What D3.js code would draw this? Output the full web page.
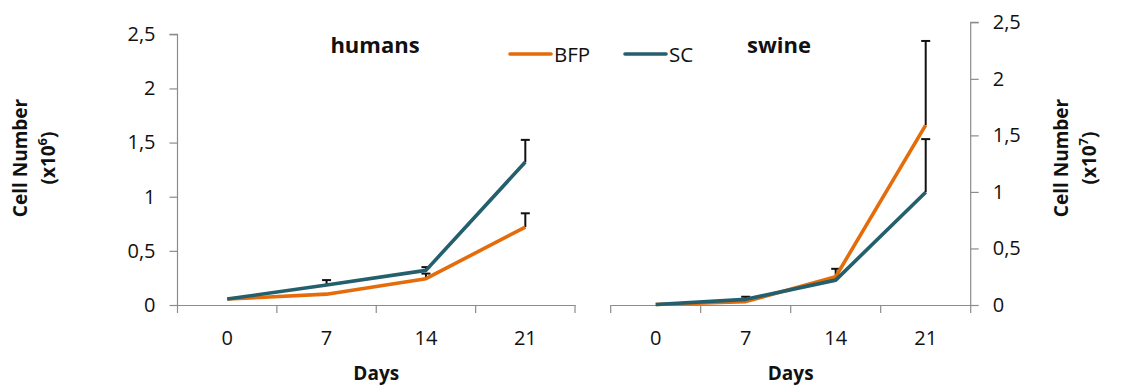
<!DOCTYPE html>
<html lang="en">
<head>
    <meta charset="UTF-8">
    <title>Cell Number</title>
    <style>
        body { margin: 0; background: #fff; }
        svg text { font-family: "Open Sans", sans-serif; fill: #111; }
    </style>
</head>
<body>
    <div id="workspace"></div>

    <script src="https://cdn.jsdelivr.net/npm/d3@7"></script>
    <script>
        const days = ["0", "7", "14", "21"];
        const yTicks = [0, 0.5, 1, 1.5, 2, 2.5];
        const yTickLabels = ["0", "0,5", "1", "1,5", "2", "2,5"];
        const seriesNames = ["BFP", "SC"];

        // humans, x10^6
        const humansBFP = [0.055, 0.10, 0.243, 0.72];
        const humansBFPErr = [0, 0, 0.047, 0.127];
        const humansSC = [0.055, 0.185, 0.32, 1.32];
        const humansSCErr = [0, 0.045, 0.03, 0.205];

        // swine, x10^7
        const swineBFP = [0.005, 0.03, 0.25, 1.59];
        const swineBFPErr = [0, 0, 0.07, 0.745];
        const swineSC = [0.005, 0.05, 0.22, 0.997];
        const swineSCErr = [0, 0.023, 0, 0.47];

        const colors = ["#e46c0a", "#245f6d"];

        const svg = d3.select("#workspace").append("svg")
            .attr("width", 1134)
            .attr("height", 385);

        function panel(opts) {
            const x = d3.scaleBand().domain(days).range(opts.xRange);
            const y = d3.scaleLinear().domain([0, 2.5]).range([305, opts.yTop]);
            const g = svg.append("g");

            // y axis
            const yAxis = opts.right ? d3.axisRight(y) : d3.axisLeft(y);
            const ya = g.append("g")
                .attr("transform", "translate(" + (opts.right ? opts.xRange[1] : opts.xRange[0]) + ",0)")
                .call(yAxis.tickValues(yTicks).tickSize(8).tickPadding(14)
                    .tickFormat((d, i) => yTickLabels[i]));
            // x axis
            const xa = g.append("g")
                .attr("transform", "translate(0,305)")
                .call(d3.axisBottom(x).tickSize(0).tickPadding(26));
            [ya, xa].forEach(a => {
                a.select(".domain").attr("stroke", "#8c8c8c").attr("stroke-width", 1.2);
                a.selectAll(".tick line").attr("stroke", "#8c8c8c").attr("stroke-width", 1.2);
                a.selectAll("text").attr("font-size", 20).attr("fill", "#1a1a1a")
                    .attr("font-family", "Open Sans, sans-serif");
            });
            ya.select(".domain").attr("d", "M0," + y(0) + "V" + y(2.5) + (opts.right ? "h8" : "h-8"));
            // category separators on x axis
            const bounds = days.map(d => x(d)).concat([opts.xRange[1]]);
            g.selectAll(".sep").data(bounds).enter().append("line")
                .attr("x1", d => d).attr("x2", d => d)
                .attr("y1", 305).attr("y2", 313)
                .attr("stroke", "#8c8c8c").attr("stroke-width", 1.2);

            const cx = d => x(d) + x.bandwidth() / 2;
            const line = d3.line().x((v, i) => cx(days[i])).y(v => y(v));

            // error bars
            opts.series.forEach((s, k) => {
                s.vals.forEach((v, i) => {
                    const e = s.err[i];
                    if (!e) return;
                    const px = cx(days[i]);
                    g.append("line").attr("x1", px).attr("x2", px)
                        .attr("y1", y(v)).attr("y2", y(v + e))
                        .attr("stroke", "#111").attr("stroke-width", 2);
                    g.append("line").attr("x1", px - 4.5).attr("x2", px + 4.5)
                        .attr("y1", y(v + e)).attr("y2", y(v + e))
                        .attr("stroke", "#111").attr("stroke-width", 2);
                });
            });
            opts.series.forEach((s, k) => {
                g.append("path")
                    .attr("d", line(s.vals))
                    .attr("fill", "none")
                    .attr("stroke", colors[k])
                    .attr("stroke-width", 3.6)
                    .attr("stroke-linejoin", "round");
            });

            g.append("text")
                .attr("x", opts.titleX).attr("y", 53)
                .attr("font-size", 22).attr("font-weight", "bold")
                .attr("text-anchor", "middle")
                .text(opts.title);
            g.append("text")
                .attr("x", (opts.xRange[0] + opts.xRange[1]) / 2).attr("y", 380)
                .attr("font-size", 19).attr("font-weight", "bold")
                .attr("text-anchor", "middle")
                .text("Days");

            const t = g.append("text")
                .attr("transform", "translate(" + opts.labelX + ",158) rotate(-90)")
                .attr("text-anchor", "middle")
                .attr("font-size", 19).attr("font-weight", "bold");
            t.append("tspan").attr("x", 0).attr("dy", 0).text("Cell Number");
            const t2 = t.append("tspan").attr("x", 0).attr("dy", 28).text("(x10");
            t.append("tspan").attr("dy", -8).attr("font-size", 13).text(opts.exp);
            t.append("tspan").attr("dy", 8).text(")");
        }

        panel({
            xRange: [177.5, 575], yTop: 34.3, right: false, title: "humans", titleX: 375,
            labelX: 27, exp: "6",
            series: [{ vals: humansBFP, err: humansBFPErr }, { vals: humansSC, err: humansSCErr }]
        });
        panel({
            xRange: [610.7, 970.7], yTop: 22.3, right: true, title: "swine", titleX: 779,
            labelX: 1068, exp: "7",
            series: [{ vals: swineBFP, err: swineBFPErr }, { vals: swineSC, err: swineSCErr }]
        });

        // legend
        const legendX = [510, 625];
        const lg = svg.selectAll(".legend").data(seriesNames).enter().append("g")
            .attr("transform", (d, i) => "translate(" + legendX[i] + ",54)");
        lg.append("line").attr("x1", 0).attr("x2", 41).attr("y1", 0).attr("y2", 0)
            .attr("stroke", (d, i) => colors[i]).attr("stroke-width", 3.6)
            .attr("stroke-linecap", "round");
        lg.append("text").attr("x", 44).attr("y", 8)
            .attr("font-size", 20.5)
            .text(d => d);
    </script>
</body>
</html>
